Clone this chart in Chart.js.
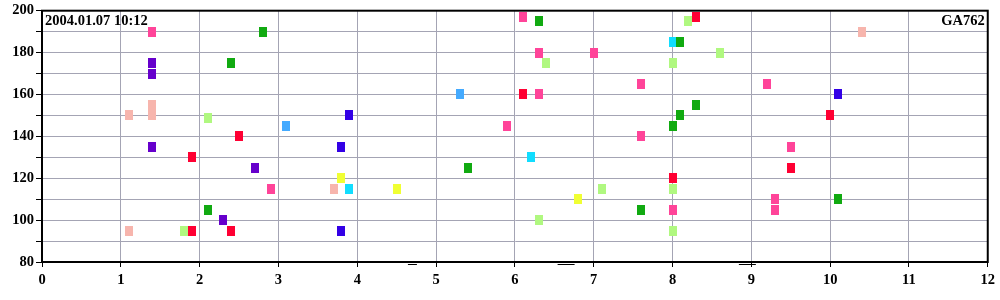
<!DOCTYPE html>
<html>
<head>
<meta charset="utf-8">
<script src="https://cdn.jsdelivr.net/npm/chart.js@4"></script>
<style>
  html, body { margin: 0; padding: 0; background: #fff; }
  #wrap { width: 1000px; height: 300px; }
</style>
</head>
<body>
<div id="wrap"><canvas id="chart"></canvas></div>
<script>
// Data, one list per marker colour: [x, y]
const pinkPts = [[1.4,190],[2.9,115],[5.9,145],[6.1,197],[6.3,180],[6.3,160],[7.0,180],[7.6,165],[7.6,140],[8.0,105],[9.2,165],[9.3,110],[9.3,105],[9.5,135]];
const salmonPts = [[1.1,150],[1.1,95],[1.4,155],[1.4,150],[3.7,115],[10.4,190]];
const purplePts = [[1.4,175],[1.4,170],[1.4,135],[2.3,100],[2.7,125]];
const bluePts = [[3.8,135],[3.8,95],[3.9,150],[10.1,160]];
const greenPts = [[2.1,105],[2.4,175],[2.8,190],[5.4,125],[6.3,195],[7.6,105],[8.0,145],[8.1,185],[8.1,150],[8.3,155],[10.1,110]];
const lightGreenPts = [[1.8,95],[2.1,149],[6.3,100],[6.4,175],[7.1,115],[8.0,175],[8.0,115],[8.0,95],[8.2,195],[8.6,180]];
const redPts = [[1.9,95],[1.9,130],[2.4,95],[2.5,140],[6.1,160],[8.0,120],[8.3,197],[9.5,125],[10.0,150]];
const skyPts = [[3.1,145],[5.3,160]];
const cyanPts = [[3.9,115],[6.2,130],[8.0,185]];
const yellowPts = [[3.8,120],[4.5,115],[6.8,110]];
// little dashes just under the x axis
const dashPts = [[4.7,78.8],[6.65,78.8],[8.95,78.8]];
const dashLen = [4.5, 8.5, 8.5];

const xTicks = [0,1,2,3,4,5,6,7,8,9,10,11,12];
const dateLabel = '2004.01.07 10:12';
const codeLabel = 'GA762';

const FONT = { family: '"Liberation Serif", "Times New Roman", serif', size: 14.5, weight: 'bold' };

function box(color) {
  const c = document.createElement('canvas');
  c.width = 8;
  c.height = 10;
  const g = c.getContext('2d');
  g.fillStyle = color;
  g.fillRect(0, 0, 8, 10);
  return c;
}

function series(label, pts, color) {
  return {
    label: label,
    data: pts.map(p => ({ x: p[0], y: p[1] })),
    pointStyle: box(color),
    backgroundColor: color,
    borderColor: color,
    showLine: false
  };
}

const frame = {
  id: 'frame',
  afterDraw(chart) {
    const ctx = chart.ctx;
    const a = chart.chartArea;
    ctx.save();
    ctx.strokeStyle = '#000';
    ctx.lineWidth = 2;
    ctx.strokeRect(a.left, a.top, a.right - a.left, a.bottom - a.top);
    ctx.fillStyle = '#000';
    ctx.font = 'bold 14.5px "Liberation Serif", serif';
    ctx.textBaseline = 'alphabetic';
    ctx.textAlign = 'left';
    ctx.fillText(dateLabel, a.left + 3, a.top + 14);
    ctx.textAlign = 'right';
    ctx.fillText(codeLabel, a.right - 3, a.top + 14);
    ctx.restore();
  }
};

new Chart(document.getElementById('chart'), {
  type: 'scatter',
  data: {
    datasets: [
      series('pink', pinkPts, '#FF4499'),
      series('salmon', salmonPts, '#F7B5AD'),
      series('purple', purplePts, '#6600CC'),
      series('blue', bluePts, '#3300E6'),
      series('green', greenPts, '#11AA11'),
      series('lightgreen', lightGreenPts, '#B0F880'),
      series('red', redPts, '#FF0033'),
      series('sky', skyPts, '#44AAFF'),
      series('cyan', cyanPts, '#11DDFF'),
      series('yellow', yellowPts, '#F0FF33'),
      {
        label: 'dash',
        data: dashPts.map(p => ({ x: p[0], y: p[1] })),
        pointStyle: 'line',
        pointRadius: dashLen,
        borderColor: '#000',
        borderWidth: 1,
        clip: false
      }
    ]
  },
  options: {
    responsive: true,
    maintainAspectRatio: false,
    animation: false,
    layout: { padding: { top: 10, right: 12, left: 0, bottom: 0 } },
    plugins: {
      legend: { display: false },
      tooltip: { enabled: false }
    },
    elements: { point: { radius: 4, hoverRadius: 4 } },
    scales: {
      x: {
        type: 'linear',
        min: 0,
        max: 12,
        afterBuildTicks: s => { s.ticks = xTicks.map(v => ({ value: v })); },
        afterFit: s => { s.height = 38; },
        grid: { color: '#A4A4B4', lineWidth: 1, tickColor: '#000', tickLength: 5 },
        border: { color: '#000', width: 2 },
        ticks: { color: '#000', font: FONT, padding: 5, maxRotation: 0, autoSkip: false }
      },
      y: {
        min: 80,
        max: 200,
        afterFit: s => { s.width = 42; },
        grid: { color: '#A4A4B4', lineWidth: 1, tickColor: '#000', tickLength: 6 },
        border: { color: '#000', width: 2 },
        ticks: {
          stepSize: 10,
          autoSkip: false,
          color: '#000',
          font: FONT,
          padding: 2,
          callback: v => (v % 20 === 0 ? v : '')
        }
      }
    }
  },
  plugins: [frame]
});
</script>
</body>
</html>
